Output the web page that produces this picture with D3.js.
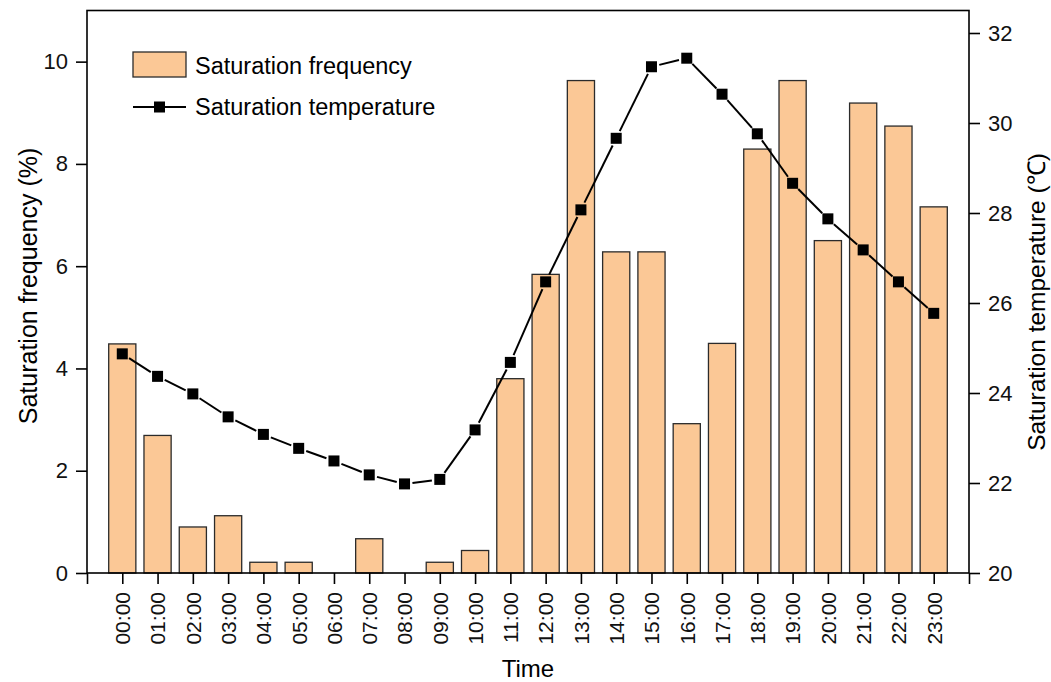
<!DOCTYPE html>
<html>
<head>
<meta charset="utf-8">
<script src="https://cdn.jsdelivr.net/npm/d3@7"></script>
<style>
    body { margin: 0; background: #fff; }
    #chart svg { display: block; font-family: "Liberation Sans", Arial, sans-serif; }
</style>
</head>
<body>
<div id="chart"></div>
<script>
    // data
    const hours = ["00:00","01:00","02:00","03:00","04:00","05:00","06:00","07:00","08:00","09:00","10:00","11:00",
                   "12:00","13:00","14:00","15:00","16:00","17:00","18:00","19:00","20:00","21:00","22:00","23:00"];
    const frequency = [4.48, 2.69, 0.9, 1.12, 0.21, 0.21, 0, 0.67, 0, 0.21, 0.44, 3.8,
                       5.84, 9.63, 6.28, 6.28, 2.92, 4.49, 8.29, 9.63, 6.5, 9.19, 8.74, 7.16];
    const temperature = [24.87, 24.37, 23.98, 23.47, 23.08, 22.77, 22.49, 22.18, 21.98, 22.08, 23.18, 24.68,
                         26.47, 28.07, 29.66, 31.25, 31.44, 30.64, 29.76, 28.66, 27.87, 27.18, 26.47, 25.77];
    const leftTicks = [0, 2, 4, 6, 8, 10];
    const rightTicks = [20, 22, 24, 26, 28, 30, 32];

    const width = 1051, height = 682;
    const pLeft = 87, pRight = 969, pTop = 10.5, pBottom = 573;
    const barColor = "#fbc896";

    let svg = d3.select("#chart").append("svg")
        .attr("width", width)
        .attr("height", height);

    let x = d3.scaleLinear().domain([-1, 24]).range([pLeft, pRight]);
    let yL = d3.scaleLinear().domain([0, 11]).range([pBottom, pTop]);
    let yR = d3.scaleLinear().domain([20, 32.5]).range([pBottom, pTop]);

    let barW = (x(1) - x(0)) * 0.77;

    // bars
    svg.append("g").selectAll("rect")
        .data(frequency)
        .join("rect")
        .attr("x", (d, i) => x(i) - barW / 2)
        .attr("y", d => yL(d))
        .attr("width", barW)
        .attr("height", d => yL(0) - yL(d))
        .attr("fill", barColor)
        .attr("stroke", "#2b2b2b")
        .attr("stroke-width", 1.3);

    // temperature line, segments stop short of the markers
    let pts = temperature.map((t, i) => [x(i), yR(t)]);
    let gap = 8;
    let segs = d3.pairs(pts).map(([a, b]) => {
        let dx = b[0] - a[0], dy = b[1] - a[1];
        let len = Math.sqrt(dx * dx + dy * dy);
        let ux = dx / len, uy = dy / len;
        return [a[0] + ux * gap, a[1] + uy * gap, b[0] - ux * gap, b[1] - uy * gap];
    });
    svg.append("g").selectAll("line")
        .data(segs)
        .join("line")
        .attr("x1", d => d[0]).attr("y1", d => d[1])
        .attr("x2", d => d[2]).attr("y2", d => d[3])
        .attr("stroke", "#000")
        .attr("stroke-width", 2);

    let ms = 11;
    svg.append("g").selectAll("rect")
        .data(temperature)
        .join("rect")
        .attr("x", (d, i) => x(i) - ms / 2)
        .attr("y", d => yR(d) - ms / 2)
        .attr("width", ms)
        .attr("height", ms)
        .attr("fill", "#000");

    // frame
    svg.append("rect")
        .attr("x", pLeft).attr("y", pTop)
        .attr("width", pRight - pLeft).attr("height", pBottom - pTop)
        .attr("fill", "none")
        .attr("stroke", "#000")
        .attr("stroke-width", 1.6);

    // left axis
    let gL = svg.append("g").attr("transform", `translate(${pLeft},0)`);
    gL.call(d3.axisLeft(yL).tickValues(d3.range(1, 11, 2)).tickSize(6).tickFormat(""));
    gL.call(d3.axisLeft(yL).tickValues(leftTicks).tickSize(11).tickPadding(8).tickFormat(d3.format("d")));

    // right axis
    let gR = svg.append("g").attr("transform", `translate(${pRight},0)`);
    gR.call(d3.axisRight(yR).tickValues(d3.range(21, 33, 2)).tickSize(6).tickFormat(""));
    gR.call(d3.axisRight(yR).tickValues(rightTicks).tickSize(11).tickPadding(8).tickFormat(d3.format("d")));

    svg.selectAll(".tick text").attr("font-size", 22);

    // bottom axis
    let gB = svg.append("g").attr("transform", `translate(0,${pBottom})`);
    gB.call(d3.axisBottom(x).tickValues(d3.range(-1, 25)).tickSize(11)
        .tickFormat(d => (d >= 0 && d < 24) ? hours[d] : ""));
    gB.selectAll(".tick text")
        .attr("transform", "rotate(-90)")
        .attr("text-anchor", "end")
        .attr("x", -19)
        .attr("y", 0)
        .attr("dy", "0.35em")
        .attr("font-size", 21);

    svg.selectAll(".domain").remove();
    svg.selectAll(".tick line").attr("stroke", "#000").attr("stroke-width", 1.6);
    svg.selectAll(".tick text").attr("fill", "#111")
        .attr("font-family", "'Liberation Sans', Arial, sans-serif");

    // axis titles
    svg.append("text")
        .attr("transform", `translate(37,286) rotate(-90)`)
        .attr("text-anchor", "middle")
        .attr("font-size", 25)
        .text("Saturation frequency (%)");

    svg.append("text")
        .attr("transform", `translate(1045,302) rotate(-90)`)
        .attr("text-anchor", "middle")
        .attr("font-size", 24.5)
        .text("Saturation temperature (℃)");

    svg.append("text")
        .attr("x", (pLeft + pRight) / 2)
        .attr("y", 677)
        .attr("text-anchor", "middle")
        .attr("font-size", 24)
        .text("Time");

    // legend
    let lg = svg.append("g");
    lg.append("rect")
        .attr("x", 133).attr("y", 52)
        .attr("width", 53).attr("height", 25)
        .attr("fill", barColor)
        .attr("stroke", "#2b2b2b")
        .attr("stroke-width", 1.3);
    lg.append("text")
        .attr("x", 195).attr("y", 74)
        .attr("font-size", 23.5)
        .text("Saturation frequency");
    lg.append("line")
        .attr("x1", 133).attr("x2", 186)
        .attr("y1", 107).attr("y2", 107)
        .attr("stroke", "#000").attr("stroke-width", 2);
    lg.append("rect")
        .attr("x", 159.5 - ms / 2).attr("y", 107 - ms / 2)
        .attr("width", ms).attr("height", ms)
        .attr("fill", "#000");
    lg.append("text")
        .attr("x", 195).attr("y", 115)
        .attr("font-size", 23.5)
        .text("Saturation temperature");
</script>
</body>
</html>
